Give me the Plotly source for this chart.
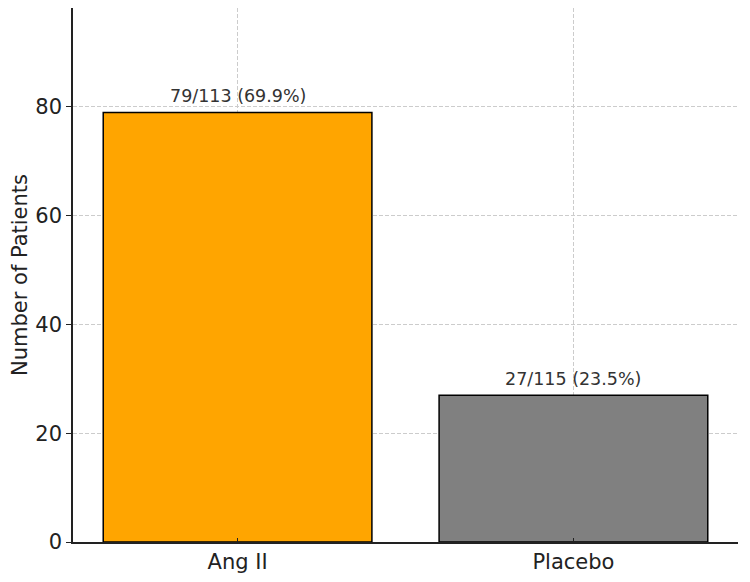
import plotly.graph_objects as go

groups = ["Ang II", "Placebo"]
responders = [79, 27]
totals = [113, 115]
bar_colors = ["#FFA500", "#808080"]

labels = [f"{r}/{t} ({r / t * 100:.1f}%)" for r, t in zip(responders, totals)]

fig = go.Figure()
fig.add_trace(go.Bar(
    x=groups,
    y=responders,
    width=0.8,
    marker=dict(color=bar_colors, line=dict(color="#000000", width=1.5)),
    showlegend=False,
))

for g, r, lab in zip(groups, responders, labels):
    fig.add_annotation(
        x=g, y=r, text=lab, showarrow=False,
        yanchor="bottom", yshift=4,
        font=dict(size=17.5, color="#333333"),
    )

# the page puts the figure 8px in from the top-left corner
grid = dict(showgrid=True, gridcolor="#cccccc", griddash="4px,2px", gridwidth=1)
fig.update_layout(
    width=742, height=574,
    margin=dict(l=65, r=12, t=0, b=40),
    plot_bgcolor="white", paper_bgcolor="white",
    font=dict(family="DejaVu Sans", size=21, color="#222222"),
    xaxis=dict(
        range=[-0.49, 1.49], showline=True, linecolor="#222222", linewidth=1.5,
        ticks="inside", ticklen=4, tickcolor="#222222", layer="above traces",
        automargin=False, **grid,
    ),
    yaxis=dict(
        range=[0, 98.2], tickvals=[0, 20, 40, 60, 80], showline=True,
        linecolor="#222222", linewidth=1.5, ticks="outside", ticklen=5,
        tickcolor="#222222", layer="above traces", zeroline=False,
        automargin=False,
        title=dict(text="Number of Patients", font=dict(size=21), standoff=10),
        **grid,
    ),
)

fig.write_html("out.html")
